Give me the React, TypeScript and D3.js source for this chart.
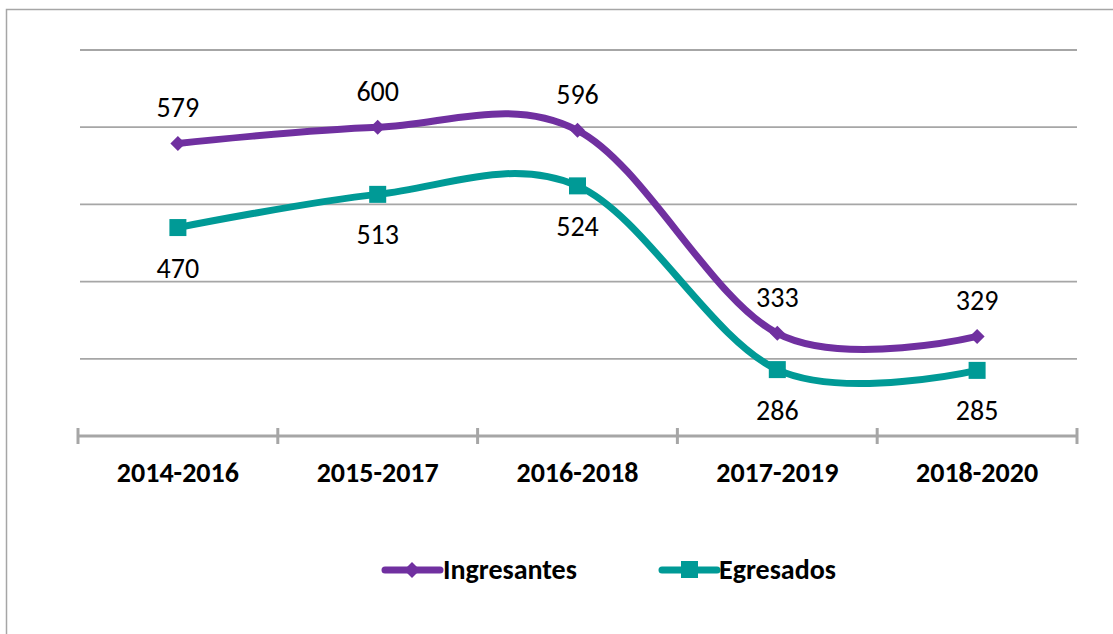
import React from "react";
import * as d3 from "d3";

const categories = ["2014-2016", "2015-2017", "2016-2018", "2017-2019", "2018-2020"];
const ingresantes = [579, 600, 596, 333, 329];
const egresados = [470, 513, 524, 286, 285];
const gridValues = [300, 400, 500, 600, 700];

const W = 1113, H = 634;
const PURPLE = "#7030A0";
const TEAL = "#009A96";
const FONT = "Carlito, 'Open Sans', 'Liberation Sans', sans-serif";

export default function App() {
  const x = d3.scaleBand<string>().domain(categories).range([78, 1077]);
  const y = d3.scaleLinear().domain([200, 700]).range([436, 50]);
  const cx = (c: string) => (x(c) ?? 0) + x.bandwidth() / 2;
  const line = d3
    .line<number>()
    .x((_, i) => cx(categories[i]))
    .y((d) => y(d))
    .curve(d3.curveCardinal.tension(0));
  const ticks = [...categories.map((c) => x(c) ?? 0), 1077];

  return (
    <svg width={W} height={H} style={{ position: "absolute", left: 0, top: 0 }}>
      <rect x={0} y={0} width={W} height={H} fill="#fff" />
      <rect x={6.5} y={9.5} width={1200} height={700} fill="none" stroke="#A6A6A6" strokeWidth={1.5} />
      {gridValues.map((v) => (
        <line key={v} x1={80} x2={1077} y1={y(v)} y2={y(v)} stroke="#A6A6A6" strokeWidth={1.8} />
      ))}
      <line x1={78} x2={1077} y1={y(200)} y2={y(200)} stroke="#A6A6A6" strokeWidth={3} />
      {ticks.map((t, i) => (
        <line key={i} x1={t} x2={t} y1={y(200) - 8} y2={y(200) + 8} stroke="#A6A6A6" strokeWidth={3} />
      ))}
      {categories.map((c) => (
        <text key={c} x={cx(c)} y={482} textAnchor="middle" fontFamily={FONT} fontWeight="bold" fontSize={28} fill="#000">
          {c}
        </text>
      ))}
      <path d={line(egresados) ?? ""} fill="none" stroke={TEAL} strokeWidth={7} strokeLinecap="round" />
      <path d={line(ingresantes) ?? ""} fill="none" stroke={PURPLE} strokeWidth={7} strokeLinecap="round" />
      {ingresantes.map((v, i) => {
        const px = cx(categories[i]), py = y(v);
        return (
          <g key={"i" + i}>
            <path d={`M${px},${py - 7.5}L${px + 7.5},${py}L${px},${py + 7.5}L${px - 7.5},${py}Z`} fill={PURPLE} />
            <text x={px} y={py - 26} textAnchor="middle" fontFamily={FONT} fontSize={28} fill="#000">{v}</text>
          </g>
        );
      })}
      {egresados.map((v, i) => {
        const px = cx(categories[i]), py = y(v);
        return (
          <g key={"e" + i}>
            <rect x={px - 8.5} y={py - 8.5} width={17} height={17} fill={TEAL} />
            <text x={px} y={py + 50} textAnchor="middle" fontFamily={FONT} fontSize={28} fill="#000">{v}</text>
          </g>
        );
      })}
      {/* legend */}
      <line x1={385} x2={440} y1={570} y2={570} stroke={PURPLE} strokeWidth={7} strokeLinecap="round" />
      <path d="M412,562L420,570L412,578L404,570Z" fill={PURPLE} />
      <text x={443} y={579} fontFamily={FONT} fontWeight="bold" fontSize={28} fill="#000">Ingresantes</text>
      <line x1={662} x2={717} y1={570} y2={570} stroke={TEAL} strokeWidth={7} strokeLinecap="round" />
      <rect x={681} y={561} width={17} height={17} fill={TEAL} />
      <text x={719} y={579} fontFamily={FONT} fontWeight="bold" fontSize={28} fill="#000">Egresados</text>
    </svg>
  );
}
